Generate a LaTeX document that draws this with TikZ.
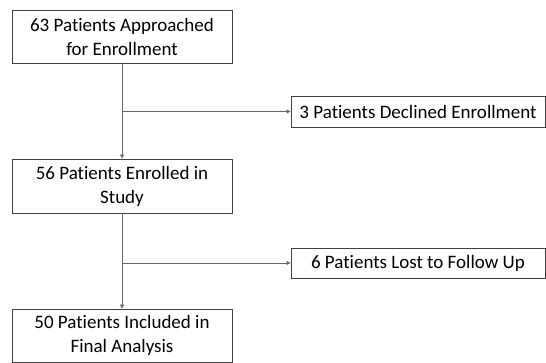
\documentclass[tikz,border=0pt]{standalone}
\usepackage{fontspec}
\setmainfont[Ligatures=NoCommon]{Carlito}
\usetikzlibrary{arrows.meta}
\begin{document}
\begin{tikzpicture}[x=1pt,y=1pt,
  box/.style={draw=black!75, line width=0.9pt, fill=white, align=center, inner sep=0pt, font=\fontsize{19}{24}\selectfont},
  conn/.style={draw=black!60, line width=0.8pt},
  arr/.style={conn, -{Triangle[length=4pt,width=4pt]}}]
\useasboundingbox (0,0) rectangle (546,363);
\node[box, minimum width=220, minimum height=53] (a) at (122,326.5) {63 Patients Approached\\for Enrollment};
\node[box, minimum width=254, minimum height=31] (d) at (418,251.5) {3 Patients Declined Enrollment};
\node[box, minimum width=220, minimum height=54] (e) at (122,177) {56 Patients Enrolled in\\Study};
\node[box, minimum width=254, minimum height=30] (l) at (418,100) {6 Patients Lost to Follow Up};
\node[box, minimum width=220, minimum height=53] (f) at (122,27.5) {50 Patients Included in\\Final Analysis};
\coordinate (j1) at (a.south |- d.west);
\coordinate (j2) at (e.south |- l.west);
\draw[arr] (a.south) -- (e.north);
\draw[arr] (j1) -- (d.west);
\draw[arr] (e.south) -- (f.north);
\draw[arr] (j2) -- (l.west);
\end{tikzpicture}
\end{document}
